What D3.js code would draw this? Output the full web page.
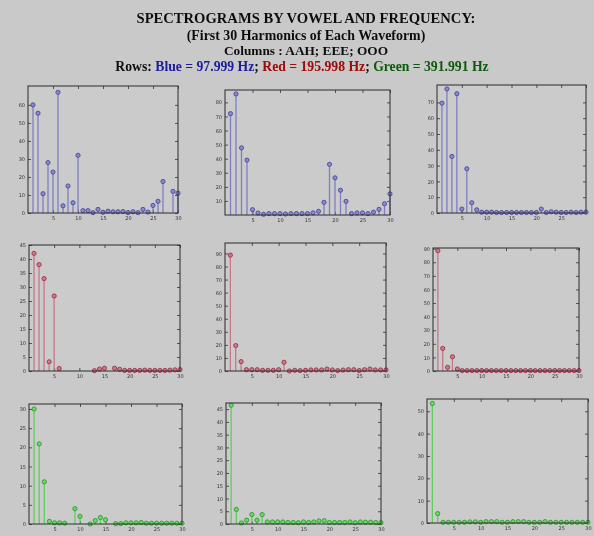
<!DOCTYPE html>
<html>
<head>
<meta charset="utf-8">
<script src="https://cdn.jsdelivr.net/npm/d3@7"></script>
<style>
  body { margin: 0; background: #c9c9c9; }
  svg { display: block; }
</style>
</head>
<body>
<script>
// harmonic numbers on the x axis
const harmonics = d3.range(1, 31);

// amplitudes (null = no stem drawn)
const blueAah = [60, 55.4, 10.7, 28, 22.7, 67, 4, 15, 5.7, 32, 1.3, 1.3, 0.2, 2, 0.4, 1, 0.7, 0.7, 0.8, 0.2, 0.7, 0.2, 2, 0.5, 4.2, 6.5, 17.5, null, 12, 11];
const blueEee = [72, 86, 47.7, 39, 3.8, 1.4, 0.5, 1, 1, 1, 0.7, 1, 1, 1, 1, 1.5, 2.6, 9, 36, 26.4, 17.6, 9.7, 1, 1.5, 1.5, 1, 2, 4, 8, 15];
const blueOoo = [69.5, 78.5, 35.8, 75.5, 2.5, 28, 6.5, 2, 0.5, 0.5, 0.5, 0.3, 0.3, 0.3, 0.3, 0.3, 0.3, 0.3, 0.3, 0.3, 2.5, 0.3, 0.8, 0.5, 0.3, 0.3, 0.5, 0.3, 0.5, 0.5];
const redAah = [42, 38, 33, 3.3, 26.8, 0.9, null, null, null, null, null, null, 0.1, 0.7, 1, null, 1, 0.6, 0.2, 0.2, 0.2, 0.2, 0.3, 0.2, 0.2, 0.2, 0.2, 0.3, 0.4, 0.5];
const redEee = [88.7, 19.5, 7.2, 1, 1, 1, 0.5, 0.5, 0.5, 1, 6.7, 0, 0.5, 0.3, 0.5, 0.8, 0.8, 0.8, 1.5, 0.8, 0.3, 0.7, 1, 1, 0.3, 1, 1.5, 0.8, 0.8, 0.8];
const redOoo = [88.5, 16.6, 2.7, 10.5, 1.5, 0.3, 0.3, 0.3, 0.3, 0.3, 0.3, 0.3, 0.3, 0.3, 0.3, 0.3, 0.3, 0.3, 0.3, 0.3, 0.3, 0.3, 0.3, 0.3, 0.3, 0.3, 0.3, 0.3, 0.3, 0.3];
const greenAah = [30, 20.9, 11, 0.7, 0.3, 0.3, 0.2, null, 4, 2, null, 0, 0.9, 1.7, 1.1, null, 0.1, 0.1, 0.3, 0.3, 0.3, 0.4, 0.2, 0.2, 0.2, 0.2, 0.2, 0.2, 0.2, 0.2];
const greenEee = [46.5, 5.7, 0.4, 1.5, 3.7, 1.5, 3.7, 0.8, 0.8, 0.8, 0.8, 0.6, 0.6, 0.5, 0.8, 0.6, 0.8, 1.2, 1.3, 0.6, 0.6, 0.6, 0.6, 0.8, 0.5, 0.8, 0.7, 0.7, 0.6, 0.5];
const greenOoo = [53.5, 4.2, 0.3, 0.3, 0.3, 0.3, 0.3, 0.5, 0.5, 0.3, 0.6, 0.6, 0.6, 0.3, 0.3, 0.6, 0.6, 0.6, 0.3, 0.3, 0.3, 0.6, 0.3, 0.3, 0.3, 0.3, 0.3, 0.3, 0.3, 0.3];

// axis limits and tick values per panel
const yMaxes = [70.5, 88.8, 81, 45, 98, 90.5, 31.3, 47.4, 55.5];
const yTickSets = [
  d3.range(0, 61, 10), d3.range(10, 81, 10), d3.range(0, 71, 10),
  d3.range(0, 46, 5), d3.range(0, 91, 10), d3.range(0, 91, 10),
  d3.range(0, 31, 5), d3.range(0, 46, 5), d3.range(0, 51, 10)
];
const xTicks = [5, 10, 15, 20, 25, 30];

const titleLines = [
  "SPECTROGRAMS BY VOWEL AND FREQUENCY:",
  "(First 30 Harmonics of Each Waveform)",
  "Columns : AAH; EEE; OOO"
];
const legendParts = [
  {t: "Rows: ", c: "#111"}, {t: "Blue = 97.999 Hz", c: "#1c1c9c"}, {t: "; ", c: "#111"},
  {t: "Red = 195.998 Hz", c: "#a00808"}, {t: "; ", c: "#111"},
  {t: "Green = 391.991 Hz", c: "#0a5a0a"}
];

const series = [blueAah, blueEee, blueOoo, redAah, redEee, redOoo, greenAah, greenEee, greenOoo];
const palettes = [
  {stem: "#7e7ec2", mark: "#4a4a9a", fill: "#8a8ad0"},
  {stem: "#c47888", mark: "#a03048", fill: "#d07888"},
  {stem: "#60cc60", mark: "#2f9a2f", fill: "#6ad86a"}
];

// box of each axes in the picture (the original is a pasted collage, so they differ)
const boxes = [
  {x0: 28, x1: 178, y0: 86, y1: 213}, {x0: 225, x1: 390, y0: 90, y1: 215}, {x0: 437, x1: 586, y0: 85, y1: 213},
  {x0: 29, x1: 180, y0: 245, y1: 371}, {x0: 225, x1: 386, y0: 243, y1: 371}, {x0: 433, x1: 579, y0: 248, y1: 371},
  {x0: 29, x1: 182, y0: 404, y1: 524}, {x0: 226, x1: 381, y0: 403, y1: 524}, {x0: 427, x1: 588, y0: 399, y1: 523}
];

const width = 594, height = 536;
const svg = d3.select("body").append("svg")
  .attr("width", width).attr("height", height);

const defs = svg.append("defs");
defs.append("filter").attr("id", "soft")
  .append("feGaussianBlur").attr("stdDeviation", 0.45);

svg.append("rect").attr("width", width).attr("height", height).attr("fill", "#c9c9c9");

const root = svg.append("g").attr("filter", "url(#soft)");

// title block
const title = root.append("g")
  .attr("font-family", "'Liberation Serif', 'Times New Roman', serif")
  .attr("font-weight", "bold")
  .attr("text-anchor", "middle")
  .attr("fill", "#111");

titleLines.forEach((line, i) => {
  title.append("text")
    .attr("x", 306).attr("y", [23, 40, 55][i])
    .attr("font-size", [14.6, 13.9, 13.3][i])
    .text(line);
});
const legend = title.append("text").attr("x", 302).attr("y", 71).attr("font-size", 13.7);
legendParts.forEach(p => legend.append("tspan").attr("fill", p.c).text(p.t));

// panels
boxes.forEach((b, i) => {
  const data = series[i];
  const pal = palettes[Math.floor(i / 3)];
  const x = d3.scaleLinear().domain([0, 30]).range([b.x0, b.x1]);
  const y = d3.scaleLinear().domain([0, yMaxes[i]]).range([b.y1, b.y0]);
  const g = root.append("g");

  g.append("rect")
    .attr("x", b.x0).attr("y", b.y0)
    .attr("width", b.x1 - b.x0).attr("height", b.y1 - b.y0)
    .attr("fill", "#cbcbcb").attr("stroke", "none");

  const xt = (i === 2) ? xTicks.slice(0, 5) : xTicks;

  const axB = g.append("g").attr("transform", `translate(0,${b.y1})`)
    .call(d3.axisBottom(x).tickValues(xt).tickSize(-3).tickPadding(3).tickFormat(d3.format("d")));
  const axT = g.append("g").attr("transform", `translate(0,${b.y0})`)
    .call(d3.axisTop(x).tickValues(xTicks).tickSize(-3).tickFormat(""));
  const axL = g.append("g").attr("transform", `translate(${b.x0},0)`)
    .call(d3.axisLeft(y).tickValues(yTickSets[i]).tickSize(-3).tickPadding(3).tickFormat(d3.format("d")));
  const axR = g.append("g").attr("transform", `translate(${b.x1},0)`)
    .call(d3.axisRight(y).tickValues(yTickSets[i]).tickSize(-3).tickFormat(""));

  [axB, axT, axL, axR].forEach(a => {
    a.select(".domain").remove();
    a.selectAll("line").attr("stroke", "#333").attr("stroke-width", 0.8);
    a.selectAll("text").attr("font-family", "'DejaVu Sans', sans-serif")
      .attr("font-size", 5).attr("fill", "#333");
  });

  const pts = harmonics.map((h, k) => ({h, v: data[k]})).filter(d => d.v !== null);

  g.selectAll("line.stem").data(pts).enter().append("line")
    .attr("class", "stem")
    .attr("x1", d => x(d.h)).attr("x2", d => x(d.h))
    .attr("y1", y(0)).attr("y2", d => y(d.v))
    .attr("stroke", pal.stem).attr("stroke-width", 1.3);

  g.selectAll("circle.mk").data(pts).enter().append("circle")
    .attr("class", "mk")
    .attr("cx", d => x(d.h)).attr("cy", d => y(d.v))
    .attr("r", 2.1)
    .attr("fill", pal.fill).attr("stroke", pal.mark).attr("stroke-width", 0.9);

  g.append("rect")
    .attr("x", b.x0).attr("y", b.y0)
    .attr("width", b.x1 - b.x0).attr("height", b.y1 - b.y0)
    .attr("fill", "none").attr("stroke", "#2a2a2a").attr("stroke-width", 1);
});
</script>
</body>
</html>
